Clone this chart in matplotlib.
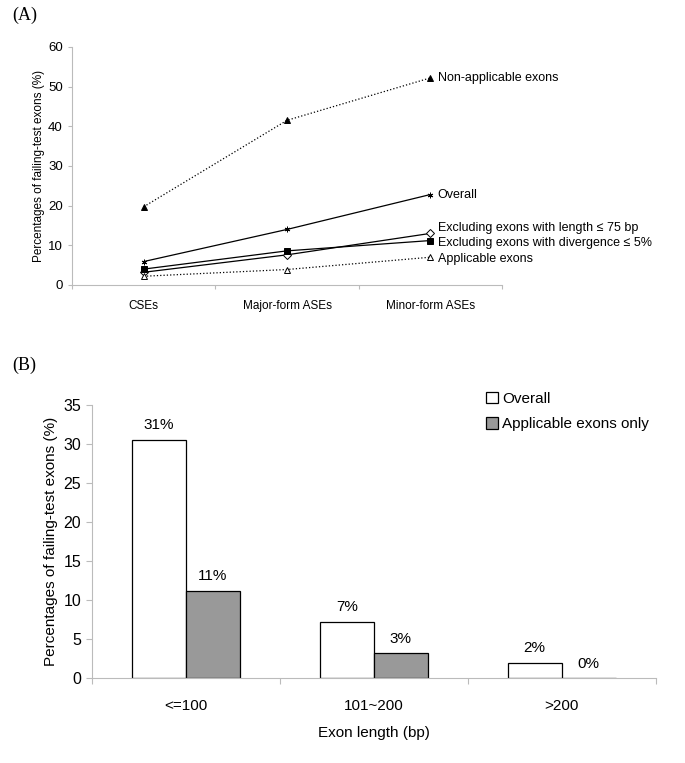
import matplotlib.pyplot as plt
import numpy as np

plt.rcParams['font.family'] = ['Liberation Sans', 'DejaVu Sans']

# panel A data
groups = ["CSEs", "Major-form ASEs", "Minor-form ASEs"]
non_applicable = [19.7, 41.5, 52.2]
overall = [5.9, 14.0, 22.8]
excl_length = [3.2, 7.6, 13.0]
excl_divergence = [4.0, 8.6, 11.2]
applicable = [2.2, 3.9, 7.0]

# panel B data
length_bins = ["<=100", "101~200", ">200"]
overall_b = [30.5, 7.2, 2.0]
applicable_b = [11.2, 3.2, 0.0]
overall_b_lbl = ["31%", "7%", "2%"]
applicable_b_lbl = ["11%", "3%", "0%"]

fig = plt.figure(figsize=(6.85, 7.63), dpi=100)

# ---- (A) ----
ax = fig.add_axes([0.105, 0.6265, 0.628, 0.312])
x = np.arange(3) + 0.5
series = [
    (non_applicable, ':', '^', 'black', "Non-applicable exons", 0),
    (overall, '-', (6, 2, 0), 'black', "Overall", 0),
    (excl_length, '-', 'D', 'white', "Excluding exons with length \u2264 75 bp", 1.4),
    (excl_divergence, '-', 's', 'black', "Excluding exons with divergence \u2264 5%", -0.6),
    (applicable, ':', '^', 'white', "Applicable exons", -0.4),
]
for vals, ls, mk, fc, name, dy in series:
    ax.plot(x, vals, linestyle=ls, color='black', linewidth=0.9,
            marker=mk, markersize=4, markerfacecolor=fc, markeredgecolor='black',
            markeredgewidth=0.7)
    ax.text(x[-1] + 0.05, vals[-1] + dy, name, fontsize=9, va='center', ha='left')

ax.set_xlim(0, 3)
ax.set_ylim(0, 60)
ax.set_yticks(range(0, 61, 10))
ax.set_xticks([0, 1, 2, 3])
ax.set_xticklabels([])
ax.set_xticks(x, minor=True)
ax.set_xticklabels(groups, minor=True, fontsize=8.5)
ax.tick_params(axis='x', which='minor', length=0, pad=11)
ax.tick_params(axis='x', which='major', length=3, color='#bbbbbb')
ax.tick_params(axis='y', length=3, color='#bbbbbb', labelsize=9.5)
for s in ['top', 'right']:
    ax.spines[s].set_visible(False)
for s in ['left', 'bottom']:
    ax.spines[s].set_color('#bbbbbb')
ax.set_ylabel("Percentages of failing-test exons (%)", fontsize=8.5, labelpad=2)
fig.text(0.018, 0.980, "(A)", fontsize=13, family='Liberation Serif', va='center')

# ---- (B) ----
bx = fig.add_axes([0.134, 0.111, 0.823, 0.358])
xb = np.arange(3) + 0.5
w = 0.287
b1 = bx.bar(xb - w / 2, overall_b, w, color='white', edgecolor='black', linewidth=0.9,
            label="Overall")
b2 = bx.bar(xb + w / 2, applicable_b, w, color='#999999', edgecolor='black', linewidth=0.9,
            label="Applicable exons only")
for rect, lbl in zip(b1, overall_b_lbl):
    bx.text(rect.get_x() + rect.get_width() / 2, rect.get_height() + 1.0, lbl,
            ha='center', va='bottom', fontsize=11)
for rect, lbl in zip(b2, applicable_b_lbl):
    bx.text(rect.get_x() + rect.get_width() / 2, rect.get_height() + 1.0, lbl,
            ha='center', va='bottom', fontsize=11)

bx.set_xlim(0, 3)
bx.set_ylim(0, 35)
bx.set_yticks(range(0, 36, 5))
bx.set_xticks([0, 1, 2, 3])
bx.set_xticklabels([])
bx.set_xticks(xb, minor=True)
bx.set_xticklabels(length_bins, minor=True, fontsize=11)
bx.tick_params(axis='x', which='minor', length=0, pad=15)
bx.tick_params(axis='x', which='major', length=4, color='#bbbbbb')
bx.tick_params(axis='y', length=4, color='#bbbbbb', labelsize=11.5)
for s in ['top', 'right']:
    bx.spines[s].set_visible(False)
for s in ['left', 'bottom']:
    bx.spines[s].set_color('#bbbbbb')
bx.set_ylabel("Percentages of failing-test exons (%)", fontsize=11)
bx.set_xlabel("Exon length (bp)", fontsize=11, labelpad=9)
bx.legend(loc='upper left', bbox_to_anchor=(0.674, 1.1), frameon=False, fontsize=11,
          handlelength=0.8, handleheight=0.8, handletextpad=0.3, labelspacing=0.75)
fig.text(0.018, 0.521, "(B)", fontsize=13, family='Liberation Serif', va='center')

fig.savefig('out.png', dpi=100)
